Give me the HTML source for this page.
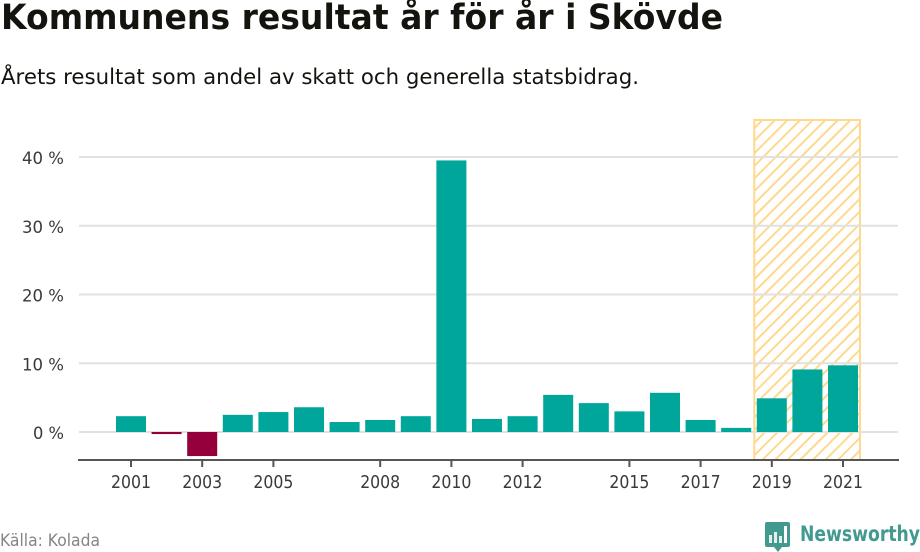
<!DOCTYPE html>
<html lang="sv">
<head>
<meta charset="utf-8">
<title>Kommunens resultat år för år i Skövde</title>
<style>
html,body{margin:0;padding:0;background:#fff;width:920px;height:552px;overflow:hidden}
svg{display:block;font-family:"DejaVu Sans","Liberation Sans",sans-serif}
</style>
</head>
<body>
<svg id="chart" width="920" height="552" viewBox="0 0 920 552" xmlns="http://www.w3.org/2000/svg">
<defs>
<pattern id="hatch" patternUnits="userSpaceOnUse" width="8.9" height="8.9" patternTransform="rotate(45)">
<rect x="0" y="0" width="2" height="8.9" fill="#ffd88f"/>
</pattern>
</defs>
<text x="1" y="29" font-size="35" font-weight="700" fill="#14140f" textLength="722" lengthAdjust="spacingAndGlyphs">Kommunens resultat år för år i Skövde</text>
<text x="1" y="84" font-size="21.5" fill="#14140f" textLength="638" lengthAdjust="spacingAndGlyphs">Årets resultat som andel av skatt och generella statsbidrag.</text>
<g id="highlight"></g>
<g id="grid"></g>
<g id="bars"></g>
<g id="axis"></g>
<text x="0" y="546" font-size="16.5" fill="#858585" textLength="100" lengthAdjust="spacingAndGlyphs">Källa: Kolada</text>
<g>
<path d="M767 522h21a2 2 0 0 1 2 2v21a2 2 0 0 1-2 2h-6l-4 5-4-5h-7a2 2 0 0 1-2-2v-21a2 2 0 0 1 2-2z" fill="#42998f"/>
<rect x="769" y="535" width="3" height="8" fill="#fff" opacity="0.85"/>
<rect x="774" y="532" width="3" height="11" fill="#fff" opacity="0.85"/>
<rect x="779" y="536" width="3" height="7" fill="#fff" opacity="0.85"/>
<rect x="784" y="526" width="3" height="17" fill="#fff"/>
<text x="800" y="541" font-size="21" font-weight="700" fill="#42998f" textLength="120" lengthAdjust="spacingAndGlyphs">Newsworthy</text>
</g>
</svg>
<script>
const years = [2001,2002,2003,2004,2005,2006,2007,2008,2009,2010,2011,2012,2013,2014,2015,2016,2017,2018,2019,2020,2021];
const values = [2.3,-0.3,-3.5,2.5,2.9,3.6,1.45,1.75,2.3,39.5,1.9,2.3,5.4,4.2,3.0,5.7,1.75,0.6,4.9,9.1,9.7];
const xTickYears = [2001,2003,2005,2008,2010,2012,2015,2017,2019,2021];
const yTickValues = [0,10,20,30,40];
const highlightYears = [2019,2021];

const NS = 'http://www.w3.org/2000/svg';
function xScale(y){ return 131 + (y - 2001) * 35.6; }
function yScale(v){ return 432 - v * 6.875; }
const barWidth = 30;
const axisY = 460;

function make(tag, attrs, parent, text){
  const el = document.createElementNS(NS, tag);
  for (const k in attrs) el.setAttribute(k, attrs[k]);
  if (text !== undefined) el.textContent = text;
  parent.appendChild(el);
  return el;
}

const grid = document.getElementById('grid');
yTickValues.forEach(function(v){
  const line = make('line', {x1:79, x2:898, y1:yScale(v), y2:yScale(v), stroke:'#e1e1e1', 'stroke-width':2}, grid);
  
  
  const label = make('text', {x:64, y:yScale(v) + 7, 'font-size':17, fill:'#3a3a3a', 'text-anchor':'end', textLength:v === 0 ? 31 : 42, lengthAdjust:'spacingAndGlyphs'}, grid, v + ' %');
  
  
});

const hl = document.getElementById('highlight');
const hx0 = xScale(highlightYears[0]) - 17.5;
const hx1 = xScale(highlightYears[1]) + 17;
const band = make('rect', {x:hx0, y:120, width:hx1 - hx0, height:axisY - 120, fill:'url(#hatch)', stroke:'#ffd88f', 'stroke-width':2}, hl);



const barsG = document.getElementById('bars');
years.forEach(function(y, i){
  const v = values[i];
  const top = Math.min(yScale(v), yScale(0));
  const h = Math.abs(yScale(v) - yScale(0));
  const bar = make('rect', {x:xScale(y) - barWidth / 2, y:top, width:barWidth, height:h, fill:v < 0 ? '#95003a' : '#00a69a'}, barsG);
  
  
});

const axis = document.getElementById('axis');
const axisLine = make('line', {x1:78, x2:899, y1:axisY, y2:axisY, stroke:'#555', 'stroke-width':2}, axis);


xTickYears.forEach(function(y){
  const t = make('line', {x1:xScale(y), x2:xScale(y), y1:axisY, y2:axisY + 7, stroke:'#555', 'stroke-width':2}, axis);
  
  
  const lab = make('text', {x:xScale(y), y:488, 'font-size':17.5, fill:'#3a3a3a', 'text-anchor':'middle', textLength:40, lengthAdjust:'spacingAndGlyphs'}, axis, String(y));
  
  
});
</script>
</body>
</html>
